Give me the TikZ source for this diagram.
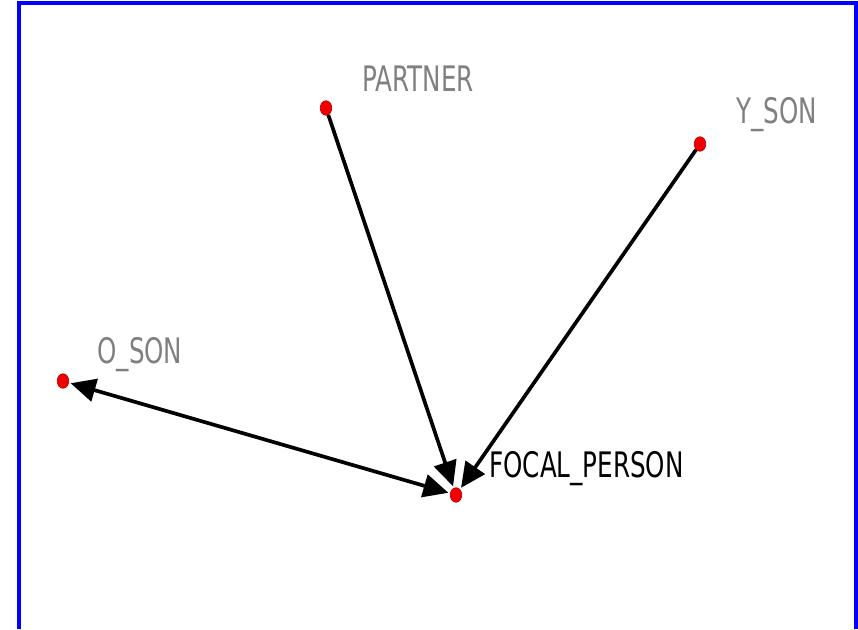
\documentclass[tikz,border=0pt]{standalone}
\usepackage{fontspec}
\setsansfont[FakeStretch=0.7]{DejaVu Sans}
\usetikzlibrary{arrows.meta,shapes.geometric}
\definecolor{frameblue}{RGB}{0,0,255}
\definecolor{dotred}{RGB}{240,0,0}
\definecolor{labelgray}{RGB}{128,128,128}
\begin{document}
\begin{tikzpicture}[x=0.02cm, y=-0.02cm,
  actor/.style={draw=dotred!80!black, ellipse, fill=dotred, minimum width=0.23cm, minimum height=0.29cm, inner sep=0pt},
  actorlabel/.style={anchor=base west, inner sep=0pt, text=labelgray, font=\sffamily\fontsize{20}{20}\selectfont},
  tie/.style={line width=2.1pt, -{Triangle[length=0.5cm, width=0.46cm]}, shorten >=1pt}]
\useasboundingbox (0,0) rectangle (858,629);

% Frame
\draw[frameblue, line width=2pt] (19,629) -- (19,3) -- (856,3) -- (856,629);

% Actors
\node[actor] (partner) at (326,108) {};
\node[actor] (yson) at (700,144) {};
\node[actor] (oson) at (63,381) {};
\node[actor] (focal) at (456,495) {};

% Labels
\node[actorlabel] (partnerlbl) at (362,91) {PARTNER};
\node[actorlabel] (ysonlbl) at (736,123) {Y\_SON};
\node[actorlabel] (osonlbl) at (97,363) {O\_SON};
\node[actorlabel, text=black] (focallbl) at (489,477) {FOCAL\_PERSON};

% Ties
\draw[tie] (partner) -- (focal);
\draw[tie] (yson) -- (focal);
\draw[tie, {Triangle[length=0.5cm, width=0.46cm]}-{Triangle[length=0.5cm, width=0.46cm]}, shorten <=1pt] (oson) -- (focal);
\end{tikzpicture}
\end{document}
